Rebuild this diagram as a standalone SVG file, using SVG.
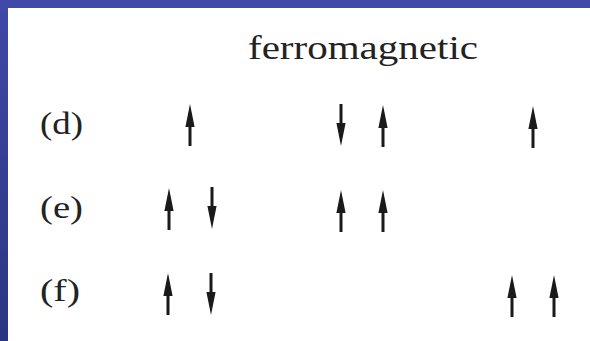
<svg xmlns="http://www.w3.org/2000/svg" xmlns:xlink="http://www.w3.org/1999/xlink" width="590" height="341" viewBox="0 0 590 341">
  <defs>
    <linearGradient id="leftBar" x1="0" y1="0" x2="0" y2="1">
      <stop offset="0" stop-color="#4048a8"/>
      <stop offset="1" stop-color="#2c3580"/>
    </linearGradient>
    <symbol id="arrowUp" overflow="visible">
      <polygon points="0,-21 4.6,2 -4.6,2" fill="#1a1a1a"/>
      <rect x="-1.5" y="0" width="3" height="21" fill="#1a1a1a"/>
    </symbol>
  </defs>
  <style>
    .lbl { font-family: "Liberation Serif", "DejaVu Serif", serif; font-size: 32px; fill: #222; }
    .title { font-family: "Liberation Serif", "DejaVu Serif", serif; font-size: 34px; fill: #222; }
  </style>
  <rect x="0" y="0" width="590" height="341" fill="#ffffff"/>
  <rect x="0" y="0" width="590" height="8" fill="#4048a8"/>
  <rect x="0" y="0" width="8" height="341" fill="url(#leftBar)"/>

  <g id="title">
    <text class="title" x="248" y="59" textLength="230" lengthAdjust="spacingAndGlyphs">ferromagnetic</text>
  </g>

  <g id="row-d">
    <text class="lbl" x="40" y="134" textLength="43" lengthAdjust="spacingAndGlyphs">(d)</text>
    <use href="#arrowUp" x="190" y="125"/>
    <use href="#arrowUp" transform="translate(341,125) rotate(180)"/>
    <use href="#arrowUp" x="383" y="126"/>
    <use href="#arrowUp" x="533" y="127"/>
  </g>

  <g id="row-e">
    <text class="lbl" x="40" y="218" textLength="43" lengthAdjust="spacingAndGlyphs">(e)</text>
    <use href="#arrowUp" x="169" y="209"/>
    <use href="#arrowUp" transform="translate(212,208) rotate(180)"/>
    <use href="#arrowUp" x="341" y="211"/>
    <use href="#arrowUp" x="383" y="211"/>
  </g>

  <g id="row-f">
    <text class="lbl" x="40" y="301" textLength="40" lengthAdjust="spacingAndGlyphs">(f)</text>
    <use href="#arrowUp" x="168" y="294"/>
    <use href="#arrowUp" transform="translate(211,294) rotate(180)"/>
    <use href="#arrowUp" x="512" y="296"/>
    <use href="#arrowUp" x="554" y="296"/>
  </g>

  <g id="connectors"/>
</svg>
